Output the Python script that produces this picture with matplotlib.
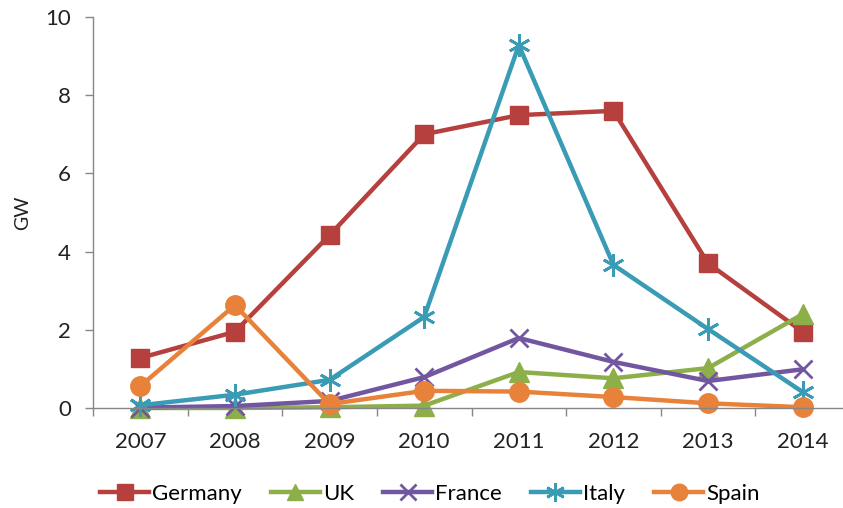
import matplotlib
matplotlib.use("Agg")
import matplotlib.pyplot as plt

years = ["2007", "2008", "2009", "2010", "2011", "2012", "2013", "2014"]
germany = [1.28, 1.95, 4.42, 7.0, 7.49, 7.6, 3.7, 1.95]
uk = [0.0, 0.0, 0.02, 0.06, 0.92, 0.76, 1.02, 2.4]
france = [0.01, 0.05, 0.18, 0.79, 1.79, 1.18, 0.69, 0.99]
italy = [0.07, 0.34, 0.72, 2.33, 9.28, 3.66, 2.02, 0.41]
spain = [0.56, 2.63, 0.1, 0.44, 0.42, 0.28, 0.12, 0.02]

series = [
    ("Germany", germany, "#B5403D", "s", 13, None),
    ("UK", uk, "#8DAF4A", "^", 14, None),
    ("France", france, "#7356A0", "x", 13, 2.0),
    ("Italy", italy, "#3A9BB5", (6, 2, 0), 16, 2.0),
    ("Spain", spain, "#E8823A", "o", 14, None),
]

plt.rcParams["font.family"] = ["Lato", "DejaVu Sans"]

fig = plt.figure(figsize=(8.43, 5.08), dpi=100)
ax = fig.add_axes([93 / 843, 100 / 508, 757 / 843, 391 / 508])

x = list(range(len(years)))
for name, vals, col, mk, ms, mew in series:
    kw = dict(color=col, lw=3.2, marker=mk, markersize=ms, label=name,
              markerfacecolor=col, markeredgecolor=col, clip_on=False)
    if mew is not None:
        kw["markeredgewidth"] = mew
    ax.plot(x, vals, **kw)

ax.set_xlim(-0.5, len(years) - 0.5)
ax.set_ylim(0, 10)
ax.set_yticks([0, 2, 4, 6, 8, 10])
ax.set_xticks(x)
ax.set_xticklabels(years)
ax.set_xticks([i - 0.5 for i in range(len(years) + 1)], minor=True)
ax.tick_params(axis="x", which="major", length=0, pad=17, labelsize=16, colors="#222222")
ax.tick_params(axis="x", which="minor", length=6, color="#868686", width=1)
ax.tick_params(axis="y", length=6, color="#868686", width=1, labelsize=16,
               labelcolor="#222222", pad=10)
for s in ["top", "right"]:
    ax.spines[s].set_visible(False)
for s in ["left", "bottom"]:
    ax.spines[s].set_color("#868686")
    ax.spines[s].set_linewidth(1)
ax.set_ylabel("GW", fontsize=14, color="#222222", labelpad=10)

leg = fig.legend(loc="center", bbox_to_anchor=(430 / 843, 1 - 494 / 508), ncol=5,
                 frameon=False, fontsize=16, handlelength=2.2, columnspacing=1.3,
                 handletextpad=0.15, markerscale=0.85)

fig.savefig("out.png", dpi=100)
